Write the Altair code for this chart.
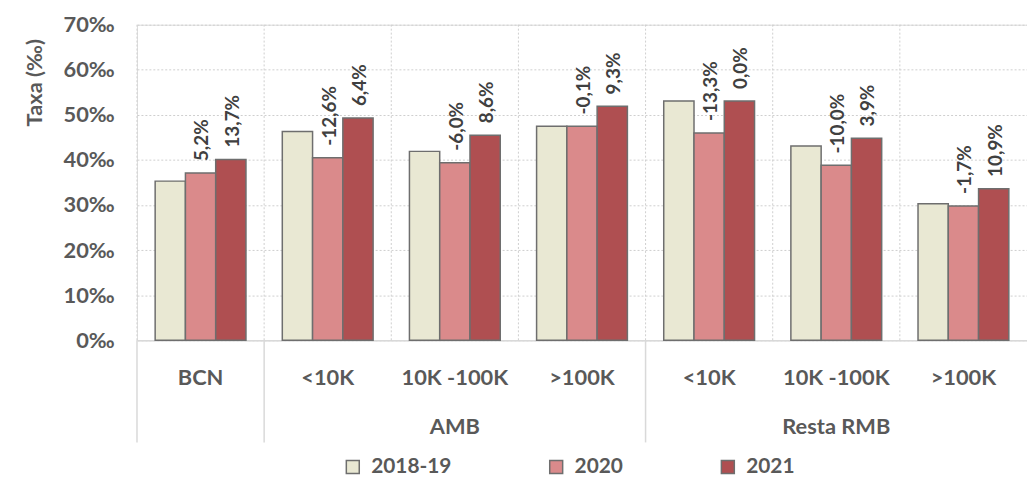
import altair as alt
import pandas as pd

# ---- data ----
groups = ["", "AMB", "AMB", "AMB", "Resta RMB", "Resta RMB", "Resta RMB"]
labels = ["BCN", "<10K", "10K -100K", ">100K", "<10K", "10K -100K", ">100K"]
series = ["2018-19", "2020", "2021"]
v2018 = [35.3, 46.3, 41.9, 47.5, 53.1, 43.1, 30.3]
v2020 = [37.1, 40.5, 39.4, 47.45, 46.0, 38.8, 29.8]
v2021 = [40.1, 49.3, 45.5, 51.9, 53.1, 44.8, 33.6]
lab2020 = ["5,2%", "-12,6%", "-6,0%", "-0,1%", "-13,3%", "-10,0%", "-1,7%"]
lab2021 = ["13,7%", "6,4%", "8,6%", "9,3%", "0,0%", "3,9%", "10,9%"]
colors = ["#E9E8D3", "#DA8A8B", "#AF4F51"]

cats = [(g + "|" + l) if g else l for g, l in zip(groups, labels)]

rows = []
for i, c in enumerate(cats):
    rows.append({"cat": c, "series": series[0], "value": v2018[i], "label": ""})
    rows.append({"cat": c, "series": series[1], "value": v2020[i], "label": lab2020[i]})
    rows.append({"cat": c, "series": series[2], "value": v2021[i], "label": lab2021[i]})
df = pd.DataFrame(rows)

cat_df = pd.DataFrame({"cat": cats, "lbl": labels})
# group annotations: centered on the middle category of each group
grp_df = pd.DataFrame({"cat": [cats[2], cats[5]], "name": ["AMB", "Resta RMB"]})
# long separators at the start of each group
sep_df = pd.DataFrame({"cat": [cats[0], cats[1], cats[4]]})

FONT = "Lato"
GREY = "#595959"

# the last category runs slightly past the right edge, as in the reference
xscale = alt.Scale(domain=cats, paddingInner=0, paddingOuter=alt.ExprRef("-0.05"), align=0)
xoff = alt.XOffset("series:N", sort=series,
                   scale=alt.Scale(domain=series, paddingOuter=0.6, paddingInner=0))
yscale = alt.Scale(domain=[0, 70])

xaxis = alt.Axis(
    title=None, labels=False, ticks=False, grid=False,
    domainColor="#d9d9d9", domainWidth=1.5,
)
yaxis = alt.Axis(
    title="Taxa (‰)", values=[0, 10, 20, 30, 40, 50, 60, 70],
    labelExpr="datum.value + '‰'",
    ticks=False, domain=False, grid=True, gridDash=[2, 2], gridColor="#cfcfcf",
    labelFont=FONT, labelFontSize=22, labelFontWeight="bold", labelColor=GREY,
    labelPadding=23,
    titleFont=FONT, titleFontSize=22, titleFontWeight="bold", titleColor=GREY,
    titleAngle=270, titleX=-103, titleY=58, titleAlign="center", titleBaseline="middle",
)

base = alt.Chart(df)

grid = alt.Chart(cat_df).mark_rule(color="#cfcfcf", strokeWidth=1, strokeDash=[2, 2]).encode(
    x=alt.X("cat:N", sort=cats, scale=xscale, bandPosition=0),
    y=alt.value(0),
    y2=alt.value(318),
)

bars = base.mark_bar(stroke="#6e6e6e", strokeWidth=1.5).encode(
    x=alt.X("cat:N", sort=cats, scale=xscale, axis=xaxis),
    xOffset=xoff,
    y=alt.Y("value:Q", scale=yscale, axis=yaxis),
    color=alt.Color(
        "series:N", sort=series,
        scale=alt.Scale(domain=series, range=colors),
        legend=alt.Legend(
            title=None, orient="none", direction="horizontal",
            legendX=207, legendY=435, padding=0,
            symbolType="square", symbolSize=170,
            symbolStrokeColor="#6e6e6e", symbolStrokeWidth=1.5,
            labelFont=FONT, labelFontSize=21, labelFontWeight="bold", labelColor=GREY,
            labelOffset=8, columnPadding=95,
        ),
    ),
)

texts = base.transform_filter("datum.label != ''").mark_text(
    angle=270, align="left", baseline="middle", dx=12, dy=2,
    font=FONT, fontSize=19, fontWeight="bold", color="#404040",
).encode(
    x=alt.X("cat:N", sort=cats, scale=xscale),
    xOffset=xoff,
    y=alt.Y("value:Q", scale=yscale),
    text="label:N",
)

cat_text = alt.Chart(cat_df).mark_text(
    font=FONT, fontSize=22, fontWeight="bold", color=GREY, baseline="middle", align="center",
).encode(
    x=alt.X("cat:N", sort=cats, scale=xscale),
    y=alt.value(356),
    text="lbl:N",
)

grp_text = alt.Chart(grp_df).mark_text(
    font=FONT, fontSize=22, fontWeight="bold", color=GREY, baseline="middle", align="center",
).encode(
    x=alt.X("cat:N", sort=cats, scale=xscale),
    y=alt.value(405),
    text="name:N",
)

seps = alt.Chart(sep_df).mark_rule(color="#d9d9d9", strokeWidth=1.5).encode(
    x=alt.X("cat:N", sort=cats, scale=xscale, bandPosition=0),
    y=alt.value(318),
    y2=alt.value(421),
)

chart = alt.layer(grid, seps, bars, texts, cat_text, grp_text).properties(
    width=897, height=318,
    autosize=alt.AutoSizeParams(type="none"),
    padding={"left": 130, "top": 15, "right": 0, "bottom": 137},
).configure_view(strokeWidth=0).configure(background="white")

chart.save("out.html", embed_options={"renderer": "svg", "actions": False})
